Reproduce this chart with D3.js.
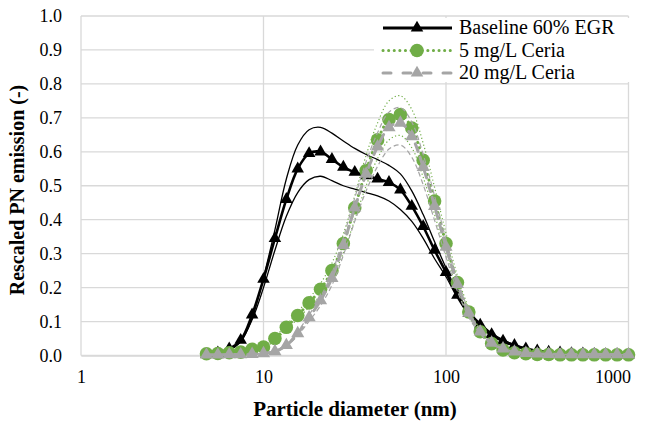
<!DOCTYPE html>
<html><head><meta charset="utf-8">
<script src="https://cdn.jsdelivr.net/npm/d3@7"></script>
<style>
html,body{margin:0;padding:0;background:#fff;}
</style></head>
<body><svg id="chart" width="649" height="425"></svg>
<script>
// Particle diameters (nm)
const diameters = [4.87,5.62,6.49,7.50,8.66,10.0,11.55,13.34,15.40,17.78,20.54,23.71,27.38,31.62,36.52,42.17,48.70,56.23,64.94,74.99,86.60,100.0,115.48,133.35,154.0,177.83,205.35,237.14,273.84,316.23,365.17,421.70,486.97,562.34,649.38,749.89,865.96,1000.0];
const seriesNames = ["Baseline 60% EGR","5 mg/L Ceria","20 mg/L Ceria"];
const baselineMean  = [0.004,0.008,0.02,0.045,0.12,0.225,0.345,0.46,0.55,0.595,0.6,0.578,0.555,0.54,0.53,0.52,0.51,0.488,0.44,0.38,0.31,0.245,0.178,0.125,0.09,0.062,0.043,0.03,0.02,0.014,0.01,0.008,0.006,0.005,0.004,0.003,0.003,0.002];
const baselineUpper = [0.003,0.006,0.016,0.04,0.11,0.23,0.37,0.52,0.62,0.665,0.672,0.655,0.632,0.61,0.592,0.577,0.56,0.535,0.485,0.415,0.335,0.258,0.186,0.131,0.095,0.066,0.046,0.032,0.022,0.015,0.011,0.009,0.007,0.006,0.005,0.004,0.004,0.003];
const baselineLower = [0.003,0.006,0.016,0.042,0.105,0.2,0.31,0.41,0.48,0.518,0.528,0.515,0.5,0.49,0.48,0.47,0.455,0.43,0.395,0.345,0.285,0.232,0.17,0.119,0.085,0.058,0.04,0.028,0.018,0.013,0.009,0.007,0.005,0.004,0.003,0.003,0.002,0.002];
const ceria5Mean  = [0.005,0.006,0.008,0.01,0.018,0.025,0.05,0.083,0.118,0.155,0.195,0.25,0.33,0.435,0.545,0.635,0.695,0.71,0.67,0.575,0.455,0.33,0.215,0.128,0.07,0.035,0.016,0.008,0.005,0.003,0.003,0.002,0.002,0.002,0.002,0.002,0.002,0.002];
const ceria5Upper = [0.006,0.007,0.009,0.012,0.02,0.028,0.055,0.09,0.128,0.168,0.212,0.272,0.358,0.47,0.59,0.685,0.75,0.765,0.725,0.625,0.495,0.36,0.235,0.14,0.077,0.038,0.018,0.009,0.006,0.004,0.003,0.003,0.002,0.002,0.002,0.002,0.002,0.002];
const ceria5Lower = [0.004,0.005,0.007,0.009,0.016,0.022,0.045,0.076,0.108,0.142,0.178,0.228,0.302,0.4,0.5,0.58,0.635,0.648,0.612,0.525,0.415,0.3,0.195,0.116,0.063,0.032,0.014,0.007,0.004,0.003,0.002,0.002,0.002,0.001,0.001,0.001,0.001,0.001];
const ceria20Mean  = [0.002,0.002,0.003,0.003,0.004,0.006,0.012,0.03,0.065,0.112,0.162,0.228,0.325,0.435,0.535,0.615,0.672,0.685,0.645,0.555,0.44,0.32,0.21,0.125,0.07,0.037,0.02,0.011,0.007,0.005,0.004,0.003,0.003,0.003,0.003,0.003,0.003,0.003];
const ceria20Upper = [0.003,0.003,0.004,0.004,0.005,0.007,0.014,0.033,0.07,0.12,0.173,0.243,0.347,0.464,0.571,0.656,0.717,0.73,0.688,0.592,0.47,0.342,0.224,0.133,0.075,0.04,0.021,0.012,0.008,0.005,0.004,0.004,0.003,0.003,0.003,0.003,0.003,0.003];
const ceria20Lower = [0.001,0.001,0.002,0.002,0.003,0.005,0.01,0.027,0.059,0.101,0.147,0.207,0.295,0.395,0.485,0.557,0.608,0.62,0.584,0.503,0.398,0.29,0.19,0.113,0.063,0.033,0.018,0.01,0.006,0.004,0.003,0.003,0.002,0.002,0.002,0.002,0.002,0.002];
const xTicks = [1,10,100,1000];
const yTicks = [0,0.1,0.2,0.3,0.4,0.5,0.6,0.7,0.8,0.9,1.0];

const FONT = "'Liberation Serif','Times New Roman',Times,serif";
const svg = d3.select("#chart");
const L = 81, R = 628.5, T = 16, B = 355.5;
const x = d3.scaleLog().domain([1,1000]).range([L,R]);
const y = d3.scaleLinear().domain([0,1]).range([B,T]);

// gridlines
svg.append("g").selectAll("line").data(yTicks).join("line")
  .attr("x1",L).attr("x2",R).attr("y1",d=>y(d)).attr("y2",d=>y(d))
  .attr("stroke","#d9d9d9").attr("stroke-width",1.3);
svg.append("g").selectAll("line").data(xTicks).join("line")
  .attr("x1",d=>x(d)).attr("x2",d=>x(d)).attr("y1",T).attr("y2",B)
  .attr("stroke","#d9d9d9").attr("stroke-width",1.3);

// axes labels
const yAxis = d3.axisLeft(y).tickValues(yTicks).tickFormat(d3.format(".1f")).tickSize(0).tickPadding(19);
const gy = svg.append("g").attr("transform",`translate(${L},0)`).call(yAxis);
gy.select(".domain").remove();
gy.selectAll("text").style("font-family",FONT).style("font-size","18px").attr("fill","#000");
const xAxis = d3.axisBottom(x).tickValues(xTicks).tickFormat(d3.format("d")).tickSize(0).tickPadding(15);
const gx = svg.append("g").attr("transform",`translate(0,${B})`).call(xAxis);
gx.select(".domain").attr("stroke","#d9d9d9").attr("stroke-width",1.3);
gx.selectAll("text").style("font-family",FONT).style("font-size","18px").attr("fill","#000");
// last label is kept inside the chart edge, as in the original
gx.selectAll(".tick").filter(d=>d===1000).select("text").attr("text-anchor","end").attr("x",2);

svg.append("text").attr("x",355).attr("y",416).attr("text-anchor","middle")
  .style("font-family",FONT).style("font-size","21px").style("font-weight","bold").text("Particle diameter (nm)");
svg.append("text").attr("transform","translate(24,190) rotate(-90)").attr("text-anchor","middle")
  .style("font-family",FONT).style("font-size","20px").style("font-weight","bold").text("Rescaled PN emission (-)");

const line = d3.line().x((d,i)=>x(diameters[i])).y(d=>y(d)).curve(d3.curveCatmullRom.alpha(0.5));
const plot = svg.append("g");

function band(arr, color, dash, w){
  plot.append("path").attr("d",line(arr)).attr("fill","none").attr("stroke",color)
    .attr("stroke-width",w).attr("stroke-dasharray",dash);
}
function mainLine(arr,color,dash,w,cap){
  plot.append("path").attr("d",line(arr)).attr("fill","none").attr("stroke",color)
    .attr("stroke-width",w).attr("stroke-dasharray",dash).attr("stroke-linecap",cap||"butt");
}
function markers(arr, type, size, color){
  plot.append("g").selectAll("path").data(arr).join("path")
    .attr("d",d3.symbol().type(type).size(size))
    .attr("transform",(d,i)=>`translate(${x(diameters[i])},${y(d)})`)
    .attr("fill",color);
}

const black="#000000", green="#70AD47", gray="#A5A5A5";
// Baseline
band(baselineUpper, black, null, 1.3);
band(baselineLower, black, null, 1.3);
mainLine(baselineMean, black, null, 2.6);
markers(baselineMean, d3.symbolTriangle, 68, black);
// 5 mg/L
band(ceria5Upper, green, "1.2,2.4", 1.2);
band(ceria5Lower, green, "1.2,2.4", 1.2);
mainLine(ceria5Mean, green, "0.1,5.5", 3, "round");
markers(ceria5Mean, d3.symbolCircle, 145, green);
// 20 mg/L
band(ceria20Upper, gray, "5,3", 1.2);
band(ceria20Lower, gray, "5,3", 1.2);
mainLine(ceria20Mean, gray, "8,6", 3, "round");
markers(ceria20Mean, d3.symbolTriangle, 75, gray);

// legend
const lg = svg.append("g");
lg.append("rect").attr("x",374).attr("y",18).attr("width",256).attr("height",64).attr("fill","#fff");
const legendItems = [
  {name:seriesNames[0], color:black, dash:null, w:3, cap:"butt", sym:d3.symbolTriangle, size:68, yy:28},
  {name:seriesNames[1], color:green, dash:"0.1,5.5", w:3, cap:"round", sym:d3.symbolCircle, size:145, yy:50.5},
  {name:seriesNames[2], color:gray, dash:"8,12", w:3, cap:"round", sym:d3.symbolTriangle, size:68, yy:73}
];
legendItems.forEach(it=>{
  lg.append("line").attr("x1",383).attr("x2",452).attr("y1",it.yy).attr("y2",it.yy)
    .attr("stroke",it.color).attr("stroke-width",it.w).attr("stroke-dasharray",it.dash).attr("stroke-linecap",it.cap);
  lg.append("path").attr("d",d3.symbol().type(it.sym).size(it.size)).attr("transform",`translate(417,${it.yy})`).attr("fill",it.color);
  lg.append("text").attr("x",459).attr("y",it.yy+6).style("font-family",FONT).style("font-size","20px").attr("fill","#000").text(it.name);
});
</script></body></html>
